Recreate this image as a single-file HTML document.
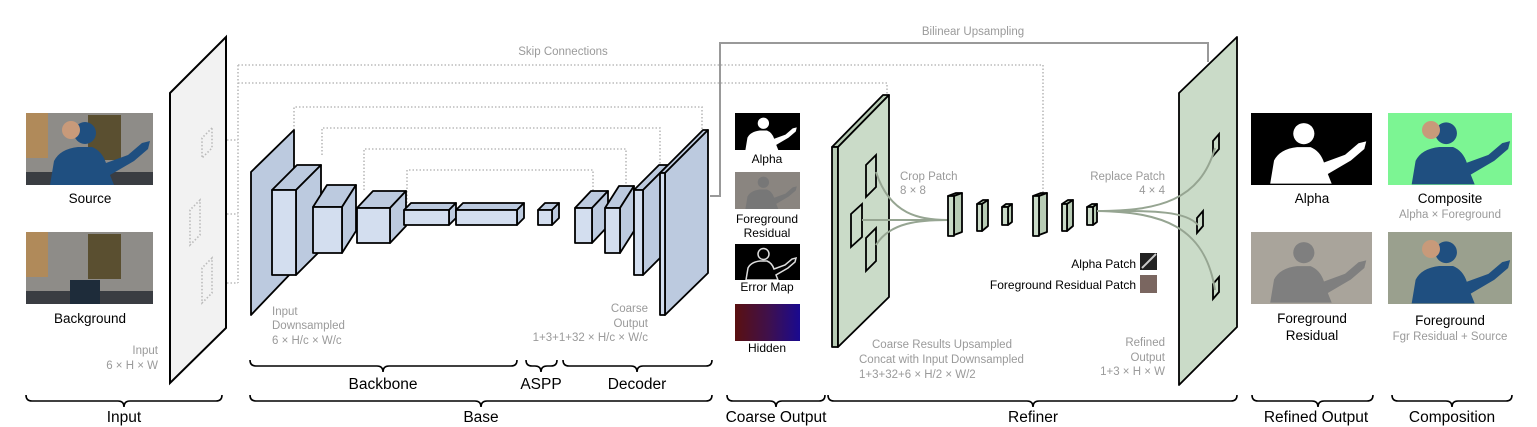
<!DOCTYPE html>
<html><head><meta charset="utf-8"><style>
html,body{margin:0;padding:0;background:#fff;}
svg{display:block;font-family:"Liberation Sans",Arial,sans-serif;}
.g{fill:#9a9a9a;font-size:11.5px;}
.k{fill:#000;font-size:13.5px;}
.b{fill:#000;font-size:15.5px;}
.c{fill:#d3deef;stroke:#000;stroke-width:1.8;stroke-linejoin:round;}
.ct{fill:#bccadf;stroke:#000;stroke-width:1.8;stroke-linejoin:round;}
.gr{fill:#cadbc8;stroke:#000;stroke-width:1.8;stroke-linejoin:round;}
.grd{fill:#b7cbb4;stroke:#000;stroke-width:1.8;stroke-linejoin:round;}
.dot{fill:none;stroke:#bbb;stroke-width:1.6;stroke-dasharray:1.5 2;}
.br{fill:none;stroke:#000;stroke-width:1.6;}
.cv{fill:none;stroke:#96a592;stroke-width:2;}
</style></head><body>
<svg width="1537" height="427" viewBox="0 0 1537 427">
<defs>
<symbol id="person" viewBox="0 0 126 72">
<circle cx="55" cy="20" r="11"/>
<path d="M20 72 L24 48 Q30 36 48 34 L62 34 Q72 38 76 50 L98 42 L112 30 L120 28 L118 36 L104 48 L80 62 L84 72 Z"/>
</symbol>
</defs>

<!-- left images -->
<rect x="26" y="113" width="127" height="72" fill="#8e8c88"/>
<rect x="26" y="113" width="22" height="45" fill="#b08a5a"/>
<rect x="88" y="115" width="33" height="45" fill="#5a4f30"/>
<rect x="26" y="172" width="127" height="13" fill="#3a3d42"/>
<use href="#person" x="30" y="113" width="126" height="72" fill="#1f4f80"/>
<circle cx="71" cy="130" r="9" fill="#c89a7a"/>
<text x="90" y="203" class="k" text-anchor="middle">Source</text>
<rect x="26" y="232" width="127" height="72" fill="#8e8c88"/>
<rect x="26" y="232" width="22" height="45" fill="#b08a5a"/>
<rect x="88" y="234" width="33" height="45" fill="#5a4f30"/>
<rect x="26" y="291" width="127" height="13" fill="#3a3d42"/>
<rect x="70" y="280" width="30" height="24" fill="#1e2c3a"/>
<text x="90" y="323" class="k" text-anchor="middle">Background</text>
<text x="158" y="354" class="g" text-anchor="end">Input</text>
<text x="158" y="369" class="g" text-anchor="end">6 × H × W</text>

<!-- skip connections -->
<path class="dot" d="M238 65 H1043 V195"/>
<path class="dot" d="M238 83 H887 V96"/>
<path class="dot" d="M238 65 V283"/>
<path class="dot" d="M213 140 H238 M213 214 H238 M213 283 H238"/>
<path class="dot" d="M294 130 V107 H702 V130"/>
<path class="dot" d="M322 155 V128 H660 V165"/>
<path class="dot" d="M364 190 V149 H626 V185"/>
<path class="dot" d="M407 203 V170 H593 V191"/>
<text x="563" y="55" class="g" text-anchor="middle">Skip Connections</text>
<!-- bilinear -->
<path d="M710 196 H720 V43 H1208 V62" fill="none" stroke="#999" stroke-width="2"/>
<text x="973" y="35" class="g" text-anchor="middle">Bilinear Upsampling</text>

<!-- input plane -->
<polygon points="170,93 226,37 226,328 170,383" fill="#f2f2f2" stroke="#000" stroke-width="2"/>
<path class="dot" d="M212 128 L202 138 V158 L212 148 Z M200 200 L190 210 V245 L200 235 Z M212 258 L202 268 V303 L212 293 Z"/>

<!-- base -->
<polygon class="ct" points="251,172 294,130 294,270 251,315"/>
<!-- cube helper manual -->
<g>
<polygon class="ct" points="272,190 297,165 321,165 296,190"/>
<polygon class="ct" points="296,190 321,165 321,250 296,275"/>
<rect class="c" x="272" y="190" width="24" height="85"/>
</g>
<g>
<polygon class="ct" points="313,207 327,185 356,185 342,207"/>
<polygon class="ct" points="342,207 356,185 356,231 342,253"/>
<rect class="c" x="313" y="207" width="29" height="46"/>
</g>
<g>
<polygon class="ct" points="357,208 373,191 406,191 390,208"/>
<polygon class="ct" points="390,208 406,191 406,226 390,243"/>
<rect class="c" x="357" y="208" width="33" height="35"/>
</g>
<g>
<polygon class="ct" points="404,210 411,203 456,203 449,210"/>
<polygon class="ct" points="449,210 456,203 456,218 449,225"/>
<rect class="c" x="404" y="210" width="45" height="15"/>
</g>
<g>
<polygon class="ct" points="456,210 463,203 524,203 517,210"/>
<polygon class="ct" points="517,210 524,203 524,218 517,225"/>
<rect class="c" x="456" y="210" width="61" height="15"/>
</g>
<g>
<polygon class="ct" points="538,210 545,203 559,203 552,210"/>
<polygon class="ct" points="552,210 559,203 559,218 552,225"/>
<rect class="c" x="538" y="210" width="14" height="15"/>
</g>
<g>
<polygon class="ct" points="575,208 591,191 608,191 592,208"/>
<polygon class="ct" points="592,208 608,191 608,226 592,243"/>
<rect class="c" x="575" y="208" width="17" height="35"/>
</g>
<g>
<polygon class="ct" points="605,208 619,186 634,186 620,208"/>
<polygon class="ct" points="620,208 634,186 634,231 620,253"/>
<rect class="c" x="605" y="208" width="15" height="45"/>
</g>
<g>
<polygon class="ct" points="634,190 659,165 668,165 643,190"/>
<polygon class="ct" points="643,190 668,165 668,250 643,275"/>
<rect class="c" x="634" y="190" width="9" height="85"/>
</g>
<g>
<polygon class="ct" points="660,173 703,130 708,130 665,173"/>
<polygon class="ct" points="665,173 708,130 708,273 665,315"/>
<rect class="c" x="660" y="173" width="5" height="142"/>
</g>
<text x="272" y="315" class="g">Input</text>
<text x="272" y="329" class="g">Downsampled</text>
<text x="272" y="344" class="g">6 × H/c × W/c</text>
<text x="648" y="312" class="g" text-anchor="end">Coarse</text>
<text x="648" y="327" class="g" text-anchor="end">Output</text>
<text x="648" y="341" class="g" text-anchor="end">1+3+1+32 × H/c × W/c</text>

<!-- coarse outputs -->
<rect x="735" y="113" width="65" height="37" fill="#000"/>
<use href="#person" x="735" y="113" width="65" height="37" fill="#fff"/>
<text x="767" y="163" class="k" font-size="12" text-anchor="middle" style="font-size:12px">Alpha</text>
<rect x="735" y="172" width="65" height="37" fill="#8a8580"/>
<use href="#person" x="735" y="172" width="65" height="37" fill="#777"/>
<text x="767" y="223" class="k" text-anchor="middle" style="font-size:12px">Foreground</text>
<text x="767" y="237" class="k" text-anchor="middle" style="font-size:12px">Residual</text>
<rect x="735" y="244" width="65" height="36" fill="#000"/>
<use href="#person" x="735" y="244" width="65" height="36" fill="none" stroke="#ddd" stroke-width="3"/>
<text x="767" y="291" class="k" text-anchor="middle" style="font-size:12px">Error Map</text>
<linearGradient id="hid" x1="0" x2="1" y1="0" y2="0"><stop offset="0" stop-color="#5a1010"/><stop offset="0.5" stop-color="#40104a"/><stop offset="1" stop-color="#1a0a90"/></linearGradient>
<rect x="735" y="304" width="65" height="37" fill="url(#hid)"/>
<text x="767" y="352" class="k" text-anchor="middle" style="font-size:12px">Hidden</text>

<!-- refiner left plane -->
<polygon class="grd" points="832,147 883,95 889,95 838,147"/>
<polygon class="grd" points="832,147 838,147 838,347 832,347"/>
<polygon class="gr" points="838,147 889,95 889,297 838,347"/>
<polygon points="866,165 876,155 876,187 866,197" fill="none" stroke="#000" stroke-width="1.8"/>
<polygon points="851,214 862,204 862,237 851,247" fill="none" stroke="#000" stroke-width="1.8"/>
<polygon points="866,238 876,228 876,261 866,271" fill="none" stroke="#000" stroke-width="1.8"/>
<path class="cv" d="M876 172 C890 215 920 220 948 220 M862 220 H948 M876 245 C890 222 920 220 948 220"/>
<!-- refiner cubes -->
<g>
<polygon class="grd" points="948,196 956,193 962,193 954,196"/>
<polygon class="grd" points="954,196 962,193 962,232 954,235"/>
<rect class="gr" x="948" y="196" width="6" height="40"/>
</g>
<g>
<polygon class="grd" points="977,204 983,200 988,200 982,204"/>
<polygon class="grd" points="982,204 988,200 988,226 982,231"/>
<rect class="gr" x="977" y="204" width="5" height="27"/>
</g>
<g>
<polygon class="grd" points="1002,207 1006,204 1012,204 1008,207"/>
<polygon class="grd" points="1008,207 1012,204 1012,222 1008,225"/>
<rect class="gr" x="1002" y="207" width="6" height="18"/>
</g>
<g>
<polygon class="grd" points="1033,196 1041,193 1047,193 1039,196"/>
<polygon class="grd" points="1039,196 1047,193 1047,232 1039,235"/>
<rect class="gr" x="1033" y="196" width="6" height="40"/>
</g>
<g>
<polygon class="grd" points="1062,204 1068,200 1073,200 1067,204"/>
<polygon class="grd" points="1067,204 1073,200 1073,226 1067,231"/>
<rect class="gr" x="1062" y="204" width="5" height="27"/>
</g>
<g>
<polygon class="grd" points="1087,207 1092,204 1097,204 1093,207"/>
<polygon class="grd" points="1093,207 1097,204 1097,222 1093,225"/>
<rect class="gr" x="1087" y="207" width="6" height="18"/>
</g>
<text x="900" y="180" class="g">Crop Patch</text>
<text x="900" y="194" class="g">8 × 8</text>
<text x="1165" y="180" class="g" text-anchor="end">Replace Patch</text>
<text x="1165" y="194" class="g" text-anchor="end">4 × 4</text>
<text x="1136" y="268" class="k" text-anchor="end" style="font-size:12px">Alpha Patch</text>
<rect x="1140" y="253" width="17" height="17" fill="#222"/>
<path d="M1142 268 L1156 254" stroke="#ccc" stroke-width="2"/>
<text x="1136" y="289" class="k" text-anchor="end" style="font-size:12px">Foreground Residual Patch</text>
<rect x="1140" y="275" width="17" height="18" fill="#7a6660"/>

<!-- right plane -->
<polygon class="gr" points="1179,93 1237,37 1237,327 1179,385"/>
<polygon points="1213,141 1219,134 1219,149 1213,156" fill="none" stroke="#000" stroke-width="1.8"/>
<polygon points="1197,218 1203,211 1203,226 1197,233" fill="none" stroke="#000" stroke-width="1.8"/>
<polygon points="1213,284 1219,277 1219,292 1213,299" fill="none" stroke="#000" stroke-width="1.8"/>
<path class="cv" d="M1097 211 C1160 211 1200 200 1215 148 M1097 211 C1150 211 1185 210 1198 225 M1097 211 C1160 212 1205 225 1215 290"/>
<text x="872" y="348" class="g">Coarse Results Upsampled</text>
<text x="859" y="363" class="g">Concat with Input Downsampled</text>
<text x="859" y="378" class="g">1+3+32+6 × H/2 × W/2</text>
<text x="1165" y="346" class="g" text-anchor="end">Refined</text>
<text x="1165" y="361" class="g" text-anchor="end">Output</text>
<text x="1165" y="375" class="g" text-anchor="end">1+3 × H × W</text>

<!-- refined output images -->
<rect x="1251" y="113" width="121" height="72" fill="#000"/>
<use href="#person" x="1251" y="113" width="121" height="72" fill="#fff"/>
<text x="1312" y="203" class="k" text-anchor="middle">Alpha</text>
<rect x="1251" y="232" width="121" height="72" fill="#a9a49b"/>
<use href="#person" x="1251" y="232" width="121" height="72" fill="#7f7f7f"/>
<text x="1312" y="323" class="k" text-anchor="middle">Foreground</text>
<text x="1312" y="340" class="k" text-anchor="middle">Residual</text>
<rect x="1388" y="113" width="124" height="72" fill="#7cf593"/>
<use href="#person" x="1392" y="113" width="124" height="72" fill="#1f4f80"/>
<circle cx="1431" cy="130" r="9" fill="#c89a7a"/>
<text x="1450" y="203" class="k" text-anchor="middle">Composite</text>
<text x="1450" y="218" class="g" text-anchor="middle">Alpha × Foreground</text>
<rect x="1388" y="232" width="124" height="72" fill="#9aa08e"/>
<use href="#person" x="1392" y="232" width="124" height="72" fill="#1f4f80"/>
<circle cx="1431" cy="249" r="9" fill="#c89a7a"/>
<text x="1450" y="325" class="k" text-anchor="middle">Foreground</text>
<text x="1450" y="340" class="g" text-anchor="middle">Fgr Residual + Source</text>

<!-- braces -->
<path class="br" d="M250 360 Q250 366 256 366 H377 Q383 366 383 372 Q383 366 389 366 H511 Q517 366 517 360"/>
<path class="br" d="M526 360 Q526 366 532 366 H535 Q541 366 541 372 Q541 366 547 366 H551 Q557 366 557 360"/>
<path class="br" d="M563 360 Q563 366 569 366 H631 Q637 366 637 372 Q637 366 643 366 H706 Q712 366 712 360"/>
<text x="383" y="389" class="b" text-anchor="middle">Backbone</text>
<text x="541" y="389" class="b" text-anchor="middle">ASPP</text>
<text x="637" y="389" class="b" text-anchor="middle">Decoder</text>
<path class="br" d="M26 395 Q26 401 32 401 H118 Q124 401 124 407 Q124 401 130 401 H216 Q222 401 222 395"/>
<path class="br" d="M250 395 Q250 401 256 401 H475 Q481 401 481 407 Q481 401 487 401 H706 Q712 401 712 395"/>
<path class="br" d="M727 395 Q727 401 733 401 H770 Q776 401 776 407 Q776 401 782 401 H819 Q825 401 825 395"/>
<path class="br" d="M828 395 Q828 401 834 401 H1027 Q1033 401 1033 407 Q1033 401 1039 401 H1231 Q1237 401 1237 395"/>
<path class="br" d="M1252 395 Q1252 401 1258 401 H1312 Q1318 401 1318 407 Q1318 401 1324 401 H1367 Q1373 401 1373 395"/>
<path class="br" d="M1392 395 Q1392 401 1398 401 H1446 Q1452 401 1452 407 Q1452 401 1458 401 H1506 Q1512 401 1512 395"/>
<text x="124" y="422" class="b" text-anchor="middle">Input</text>
<text x="481" y="422" class="b" text-anchor="middle">Base</text>
<text x="776" y="422" class="b" text-anchor="middle">Coarse Output</text>
<text x="1033" y="422" class="b" text-anchor="middle">Refiner</text>
<text x="1316" y="422" class="b" text-anchor="middle">Refined Output</text>
<text x="1452" y="422" class="b" text-anchor="middle">Composition</text>
</svg>
</body></html>
